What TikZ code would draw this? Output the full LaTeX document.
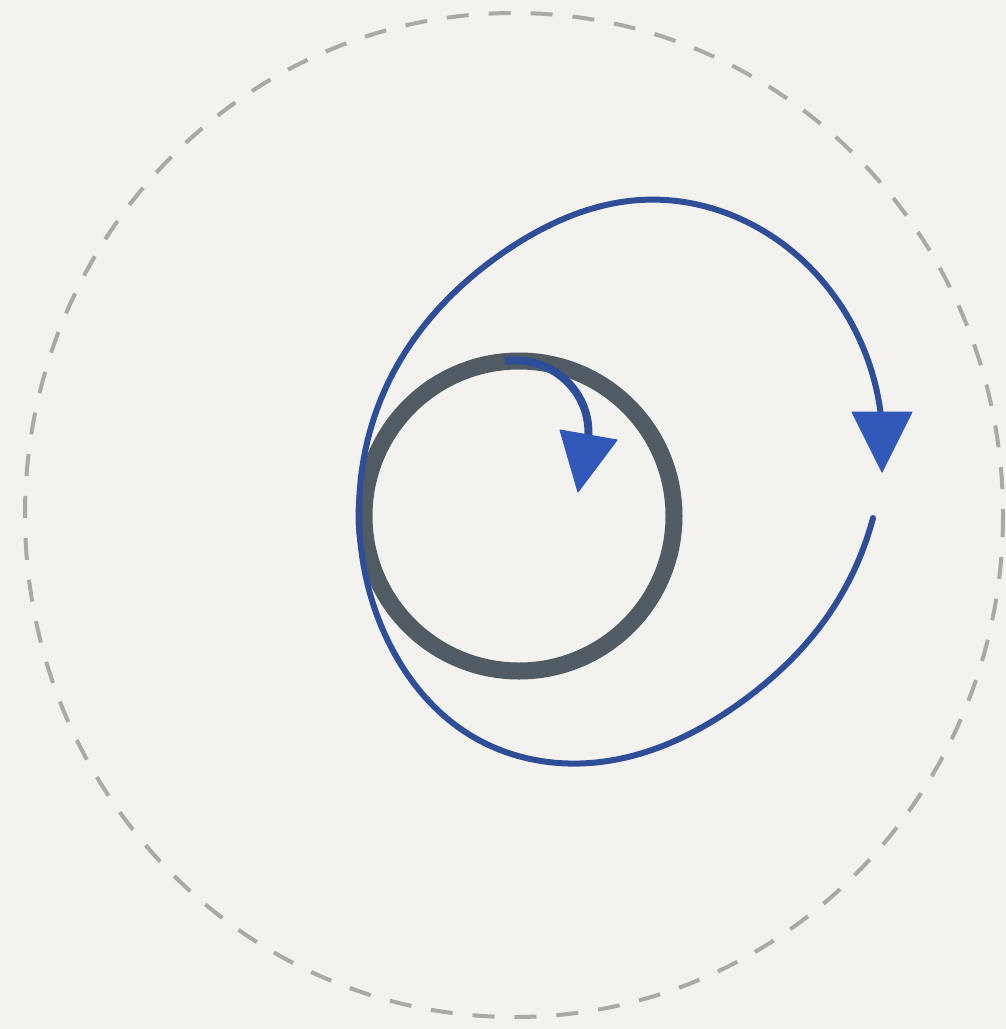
\documentclass[tikz,border=0pt]{standalone}
\usetikzlibrary{hobby}
\definecolor{bgc}{HTML}{F3F2EE}
\definecolor{ringc}{HTML}{505B63}
\definecolor{bluec}{HTML}{2F4E98}
\definecolor{tipc}{HTML}{2F58B8}
\definecolor{dashc}{HTML}{A9A9A5}
\tikzset{
  outerdash/.style={draw=dashc, line width=2pt, dash pattern=on 11pt off 10pt},
  ringstyle/.style={draw=ringc, line width=8.5pt},
  bigline/.style={draw=bluec, line width=3pt, line cap=round},
  smallline/.style={draw=bluec, line width=4pt},
  tiphead/.style={fill=tipc, draw=tipc, line width=0.5pt, line join=round},
}
\begin{document}
\begin{tikzpicture}[x=0.5pt,y=-0.5pt]
\fill[bgc] (0,0) rectangle (1006,1029);
\useasboundingbox (0,0) rectangle (1006,1029);
\coordinate (c) at (514,515);
\draw[outerdash] (c) ellipse [x radius=489, y radius=502];
\coordinate (rc) at (519,516);
\draw[ringstyle] (rc) circle [radius=155];
% big arrow
\coordinate (bs) at (873,518);
\coordinate (bb) at (881,416);
\coordinate (bl) at (852,412);
\coordinate (br) at (912,412);
\coordinate (bt) at (882,472);
\draw[bigline, use Hobby shortcut] (bs) .. (827,617) .. (740,703)
  .. (590,763) .. (470,735) .. (390,645) .. (359,515)
  .. (391,377) .. (507,250) .. (640,200) .. (770,235)
  .. (855,330) .. (bb);
\fill[tiphead] (bl) -- (br) -- (bt) -- cycle;
% small arrow
\coordinate (ss) at (505,361);
\coordinate (sb) at (588,440);
\coordinate (sl) at (560,430);
\coordinate (sr) at (617,440);
\coordinate (st) at (578,492);
\draw[smallline, use Hobby shortcut] (ss) .. (562,377) .. (583,405) .. (sb);
\fill[tiphead] (sl) -- (sr) -- (st) -- cycle;
\end{tikzpicture}
\end{document}
